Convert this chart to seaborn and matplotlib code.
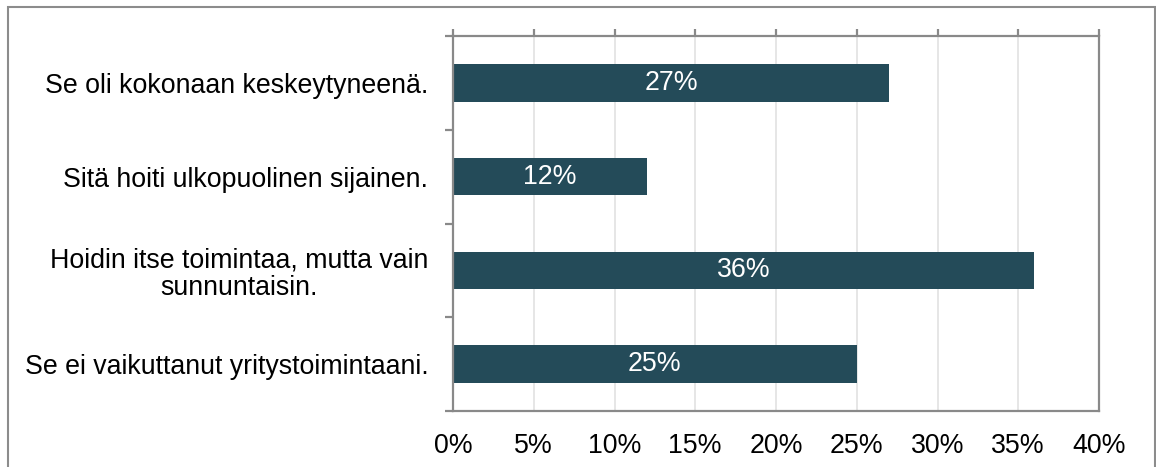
import matplotlib
matplotlib.use("Agg")
import matplotlib.pyplot as plt
import seaborn as sns
import pandas as pd
from matplotlib.patches import Rectangle
from matplotlib.ticker import FuncFormatter

categories = [
    "Se oli kokonaan keskeytyneenä.",
    "Sitä hoiti ulkopuolinen sijainen.",
    "Hoidin itse toimintaa, mutta vain\nsunnuntaisin.",
    "Se ei vaikuttanut yritystoimintaani.",
]
values = [27, 12, 36, 25]
value_labels = ["27%", "12%", "36%", "25%"]
x_ticks = [0, 5, 10, 15, 20, 25, 30, 35, 40]

sns.set_theme(style="white")
plt.rcParams["font.family"] = ["Liberation Sans", "DejaVu Sans"]

FS = 19.3

df = pd.DataFrame({"cat": categories, "val": values})

fig = plt.figure(figsize=(11.56, 4.67), dpi=100)
ax = fig.add_axes([453 / 1156, 1 - 411 / 467, (1099 - 453) / 1156, (411 - 36) / 467])

sns.barplot(data=df, x="val", y="cat", orient="h", color="#244b59",
            saturation=1, width=0.4, ax=ax)
for p in ax.patches:
    p.set_edgecolor("none")

ax.bar_label(ax.containers[0], labels=value_labels, label_type="center",
             color="white", fontsize=FS)

ax.set_xlim(0, 40)
ax.set_ylim(3.5, -0.5)
ax.set_xticks(x_ticks)
ax.xaxis.set_major_formatter(FuncFormatter(lambda v, p: f"{v:.0f}%"))
ax.set_xlabel("")
ax.set_ylabel("")

ax.grid(axis="x", color="#e2e2e2", linewidth=1.2)
ax.set_axisbelow(True)

for s in ax.spines.values():
    s.set_color("#898989")
    s.set_linewidth(1.6)
    s.set_visible(True)

ax.tick_params(axis="x", which="major", top=True, bottom=False, labelbottom=True,
               labeltop=False, direction="out", length=5, width=1.6,
               color="#898989", pad=11, labelsize=FS, labelcolor="black")

ax.set_yticks([-0.5, 0.5, 1.5, 2.5, 3.5], minor=True)
ax.tick_params(axis="y", which="minor", left=True, length=6, width=1.6,
               color="#898989", direction="out")
ax.tick_params(axis="y", which="major", left=False, length=6, pad=11.7,
               labelsize=FS, labelcolor="black")
for lbl in ax.get_yticklabels():
    lbl.set_multialignment("center")
    lbl.set_linespacing(1.1)

rect = Rectangle((8 / 1156, -0.2), (1155 - 8) / 1156, 1.2 - 7 / 467,
                 transform=fig.transFigure, fill=False, edgecolor="#8c8c8c",
                 linewidth=1.5)
fig.patches.append(rect)

fig.savefig("out.png", dpi=100)
